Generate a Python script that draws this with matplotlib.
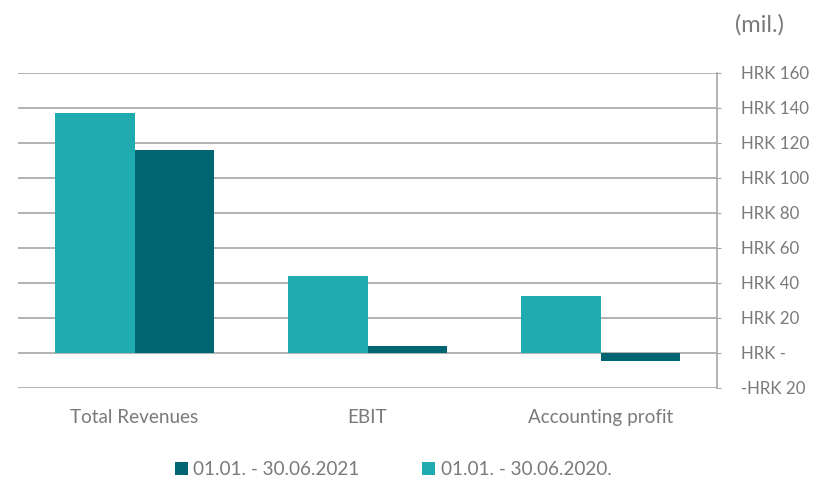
import numpy as np
import matplotlib
matplotlib.use('Agg')
import matplotlib.pyplot as plt
from matplotlib.ticker import FixedLocator

categories = ['Total Revenues', 'EBIT', 'Accounting profit']
values_2020 = [137.0, 44.0, 32.6]
values_2021 = [116.0, 4.0, -4.6]
label_2021 = '01.01. - 30.06.2021'
label_2020 = '01.01. - 30.06.2020.'
yticks = [-20, 0, 20, 40, 60, 80, 100, 120, 140, 160]
ytick_labels = ['-HRK 20', 'HRK -', 'HRK 20', 'HRK 40', 'HRK 60', 'HRK 80',
                'HRK 100', 'HRK 120', 'HRK 140', 'HRK 160']

teal = '#1fabaf'
dark = '#006570'
grid_c = '#a6a6a6'
text_c = '#7a7a7a'

plt.rcParams['font.family'] = ['Lato', 'DejaVu Sans']

fig = plt.figure(figsize=(8.19, 4.79), dpi=100)
ax = fig.add_axes([0.022, 0.19, 0.8535, 0.6576])

x = np.arange(len(categories))
w = 0.342
ax.bar(x - w/2, values_2020, w, color=teal, label=label_2020, zorder=3)
ax.bar(x + w/2, values_2021, w, color=dark, label=label_2021, zorder=3)

ax.set_xlim(-0.5, 2.5)
ax.set_ylim(-20, 160)
ax.yaxis.set_major_locator(FixedLocator(yticks))
ax.set_yticklabels(ytick_labels)
ax.yaxis.tick_right()
ax.tick_params(axis='y', length=3, color=grid_c, labelsize=12.2, labelcolor=text_c, pad=14)
ax.set_xticks(x)
ax.set_xticklabels(categories)
ax.tick_params(axis='x', length=0, labelsize=13.6, labelcolor=text_c, pad=15)
ax.grid(axis='y', color=grid_c, linewidth=1.2, zorder=0)

for s in ['top', 'left', 'bottom']:
    ax.spines[s].set_visible(False)
ax.spines['right'].set_color(grid_c)
ax.spines['right'].set_linewidth(1.2)

fig.text(0.897, 0.948, '(mil.)', fontsize=17, color=text_c, va='center')

h, l = ax.get_legend_handles_labels()
fig.legend([h[1], h[0]], [l[1], l[0]], loc='center', bbox_to_anchor=(0.48, 0.019),
           ncol=2, frameon=False, fontsize=13.6, labelcolor=text_c,
           handlelength=0.7, handleheight=0.7, handletextpad=0.3, columnspacing=3.3)

fig.savefig('out.png', dpi=100)
